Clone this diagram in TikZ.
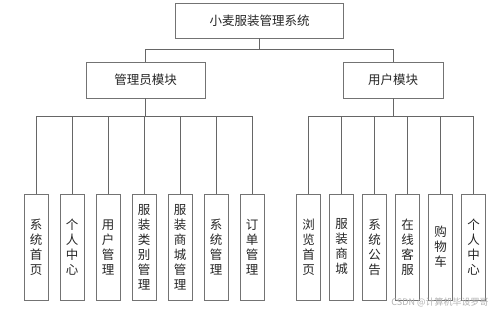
\documentclass[tikz,border=0pt]{standalone}
\usepackage{fontspec}
\newfontfamily\cjk{Noto Sans CJK SC}
\usetikzlibrary{positioning,calc}

\tikzset{
  box/.style={draw=black!55, line width=0.8pt, fill=white, inner sep=0pt,
    font=\cjk\fontsize{12.5}{15}\selectfont, text=black!85},
  leafbox/.style={box, minimum width=24pt, minimum height=106pt, text width=24pt, align=center},
  link/.style={draw=black!60, line width=0.8pt}
}

\begin{document}
\begin{tikzpicture}[x=1pt,y=-1pt]
    \useasboundingbox[fill=white] (0,0) rectangle (499,312);

    % Sistema
    \node[box, minimum width=168pt, minimum height=35pt] (sys) at (259.5,20.5) {小麦服装管理系统};

    % Modulos
    \node[box, minimum width=119pt, minimum height=36pt] (admin) at (145.5,80) {管理员模块};
    \node[box, minimum width=100pt, minimum height=36pt] (user) at (393,80) {用户模块};
    \draw[link] (sys.south) -- ++(0,11) -| (admin.north);
    \draw[link] (sys.south) -- ++(0,11) -| (user.north);

    % Funcoes do administrador
    \foreach \txt [count=\i] in {系\\统\\首\\页, 个\\人\\中\\心, 用\\户\\管\\理,
        服\\装\\类\\别\\管\\理, 服\\装\\商\\城\\管\\理, 系\\统\\管\\理, 订\\单\\管\\理} {
      \node[leafbox] (a\i) at ({36*\i},247) {\txt};
      \draw[link] (admin.south) -- ++(0,18) -| (a\i.north);
    }

    % Funcoes do usuario
    \foreach \txt [count=\i] in {浏\\览\\首\\页, 服\\装\\商\\城, 系\\统\\公\\告,
        在\\线\\客\\服, 购\\物\\车, 个\\人\\中\\心} {
      \node[leafbox] (u\i) at ({275.7+33*\i},247) {\txt};
      \draw[link] (user.south) -- ++(0,18) -| (u\i.north);
    }

    % Marca d'agua
    \node[font=\cjk\fontsize{9}{10}\selectfont, text=black!30] (mark) at (440,302) {CSDN @计算机毕设罗哥};
\end{tikzpicture}
\end{document}
